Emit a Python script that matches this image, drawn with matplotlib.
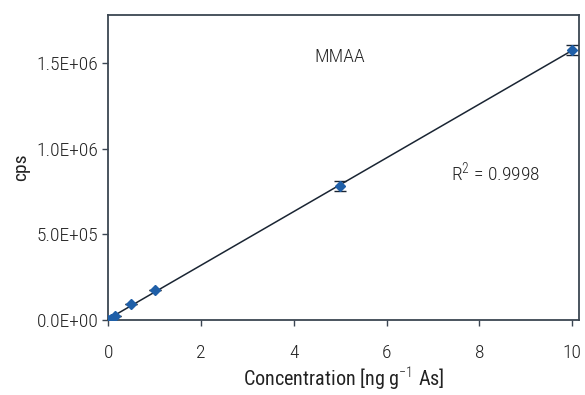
import matplotlib
matplotlib.use("Agg")
import matplotlib.pyplot as plt
import numpy as np

# ----------------------------
# Data
# ----------------------------
conc = [0.0, 0.05, 0.15, 0.5, 1.0, 5.0, 10.0]
cps = [0, 8000, 23000, 93000, 176000, 783000, 1575000]
err = [0, 0, 0, 0, 0, 28000, 28000]

# fitted line
slope, intercept = np.polyfit(conc, cps, 1)

# ----------------------------
# Font
# ----------------------------
plt.rcParams["font.family"] = ["Roboto Condensed", "DejaVu Sans"]
plt.rcParams["font.weight"] = "light"
plt.rcParams["mathtext.fontset"] = "custom"
plt.rcParams["mathtext.rm"] = "Roboto Condensed:light"
plt.rcParams["mathtext.default"] = "rm"

txt_color = "#222222"
fs = 14

# ----------------------------
# Plot
# ----------------------------
fig, ax = plt.subplots(figsize=(5.85, 3.95), dpi=100)
fig.subplots_adjust(left=0.185, right=0.99, top=0.962, bottom=0.19)

xs = np.array([0, 10])
ax.plot(xs, slope * xs + intercept, color="#1a2533", linewidth=1.1, zorder=2)
ax.errorbar(conc, cps, yerr=err, fmt="D", color="#1f5fa8", markersize=5.3,
            ecolor="#1a2533", elinewidth=1, capsize=4, capthick=1, zorder=3)

ax.set_xlim(0, 10.15)
ax.set_ylim(0, 1.78e6)
ax.set_xticks([0, 2, 4, 6, 8, 10])
ax.set_yticks([0, 5e5, 1e6, 1.5e6])
ax.set_yticklabels(["0.0E+00", "5.0E+05", "1.0E+06", "1.5E+06"])

for s in ax.spines.values():
    s.set_color("#3b4652")
    s.set_linewidth(1.3)
ax.tick_params(labelsize=fs, color="#3b4652", length=4, width=1, labelcolor=txt_color)
ax.tick_params(axis="x", pad=13)
ax.tick_params(axis="y", pad=3)

ax.set_xlabel("Concentration [ng g$^{\\mathrm{-1}}$ As]", fontsize=14.5, color=txt_color, labelpad=3)
ax.set_ylabel("cps", fontsize=fs, color=txt_color, labelpad=5)

ax.text(5.0, 1.536e6, "MMAA", fontsize=fs, color=txt_color, ha="center", va="center")
ax.text(8.34, 8.67e5, "R$^{2}$ = 0.9998", fontsize=fs, color=txt_color, ha="center", va="center")

plt.savefig("out.png", dpi=100)
